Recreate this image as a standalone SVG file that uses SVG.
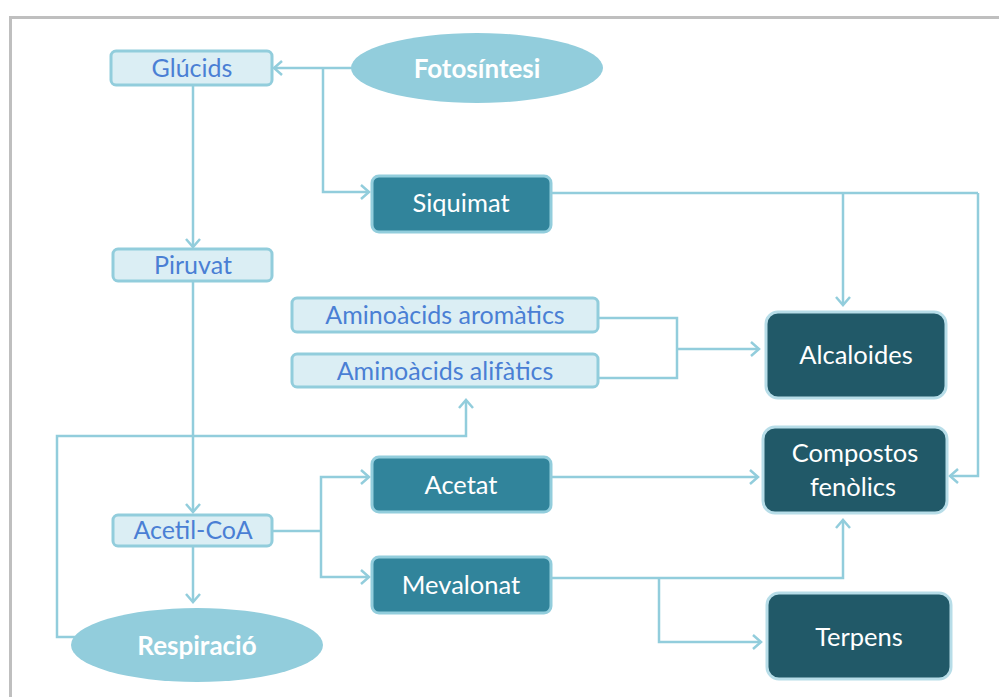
<svg xmlns="http://www.w3.org/2000/svg" width="999" height="697" viewBox="0 0 999 697">
<defs>
<marker id="ah" markerUnits="userSpaceOnUse" markerWidth="14" markerHeight="16" refX="10" refY="8" orient="auto">
<path d="M2,1 L10,8 L2,15" fill="none" stroke="#92cddc" stroke-width="2.5"/>
</marker>
</defs>
<style>
.frame{fill:none;stroke:#bfbfbf;stroke-width:3}
.lt rect{fill:#dbeef4;stroke:#92cddc;stroke-width:3}
.md rect{fill:#31849b;stroke:#92cddc;stroke-width:3}
.dk rect{fill:#215968;stroke:#b7dde8;stroke-width:3}
.el ellipse{fill:#92cddc}
text{font-family:Lato,"Open Sans","Liberation Sans",sans-serif;font-size:25.5px;text-anchor:middle;dominant-baseline:central}
.lt text{fill:#4a7fd4;font-size:25px}
.md text,.dk text{fill:#ffffff}
.el text{fill:#ffffff;font-weight:bold;font-size:26px}
.conn path{fill:none;stroke:#92cddc;stroke-width:2.5}
.conn path.a{marker-end:url(#ah)}
</style>
<rect width="999" height="697" fill="#ffffff"/>
<path class="frame" d="M10.5,700 V17.5 H1002"/>

<g class="conn">
<path class="a" d="M352,68 H274"/>
<path class="a" d="M323,68 V192 H369"/>
<path class="a" d="M193,86 V247"/>
<path class="a" d="M193,282 V512"/>
<path class="a" d="M193,547 V602"/>
<path d="M599,318 H677 V378 H599"/>
<path class="a" d="M677,349 H759"/>
<path d="M552,193 H978"/>
<path class="a" d="M843,193 V305"/>
<path class="a" d="M978,193 V476 H950"/>
<path class="a" d="M552,477 H758"/>
<path d="M273,531 H321"/>
<path class="a" d="M321,531 V477 H369"/>
<path class="a" d="M321,531 V577 H369"/>
<path class="a" d="M552,578 H843 V520"/>
<path class="a" d="M659,578 V642 H761"/>
<path class="a" d="M76,637 H57 V436 H466 V400"/>
</g>

<g id="glucids" class="lt"><rect x="111" y="51" width="161" height="34" rx="5"/><text x="192" y="67">Glúcids</text></g>
<g id="fotosintesi" class="el"><ellipse cx="477" cy="68" rx="126" ry="35"/><text x="477" y="68">Fotosíntesi</text></g>
<g id="siquimat" class="md"><rect x="372" y="176" width="179" height="56" rx="7"/><text x="461" y="202">Siquimat</text></g>
<g id="piruvat" class="lt"><rect x="113" y="249" width="159" height="32" rx="5"/><text x="193" y="264">Piruvat</text></g>
<g id="aromatics" class="lt"><rect x="292" y="298" width="306" height="34" rx="5"/><text x="445" y="314">Aminoàcids aromàtics</text></g>
<g id="alifatics" class="lt"><rect x="292" y="354" width="306" height="33" rx="5"/><text x="445" y="370">Aminoàcids alifàtics</text></g>
<g id="alcaloides" class="dk"><rect x="766" y="312" width="180" height="86" rx="12"/><text x="856" y="354">Alcaloides</text></g>
<g id="compostos" class="dk"><rect x="763" y="427" width="184" height="86" rx="12"/><text x="855" y="452">Compostos</text><text x="853" y="486">fenòlics</text></g>
<g id="acetat" class="md"><rect x="372" y="457" width="179" height="55" rx="7"/><text x="461" y="484">Acetat</text></g>
<g id="acetilcoa" class="lt"><rect x="113" y="515" width="159" height="31" rx="5"/><text x="193" y="529">Acetil-CoA</text></g>
<g id="mevalonat" class="md"><rect x="372" y="557" width="179" height="56" rx="7"/><text x="461" y="584">Mevalonat</text></g>
<g id="terpens" class="dk"><rect x="767" y="593" width="184" height="86" rx="12"/><text x="859" y="636">Terpens</text></g>
<g id="respiracio" class="el"><ellipse cx="197" cy="645" rx="126" ry="37"/><text x="197" y="645">Respiració</text></g>
</svg>
